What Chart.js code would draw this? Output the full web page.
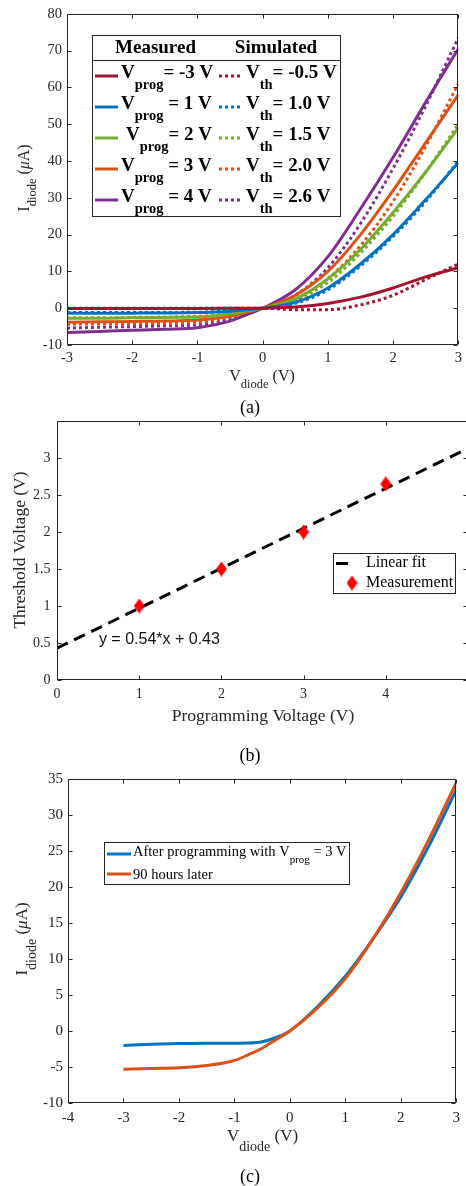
<!DOCTYPE html>
<html>
<head>
<meta charset="utf-8">
<script src="https://cdn.jsdelivr.net/npm/chart.js@4.4.1/dist/chart.umd.min.js"></script>
<style>
  html, body { margin: 0; padding: 0; background: #fff; overflow: hidden; width: 466px; height: 1186px; }
  canvas { position: absolute; left: 0; }
</style>
</head>
<body>
<canvas id="chartA" width="466" height="420" style="top:0px"></canvas>
<canvas id="chartB" width="480" height="360" style="top:405px"></canvas>
<canvas id="chartC" width="466" height="421" style="top:765px"></canvas>
<script>
// ---- (a) measured vs simulated I-V curves
const vDiodeA = [-3, -2.5, -2, -1.5, -1, -0.5, -0.25, 0, 0.5, 1, 1.5, 2, 2.5, 3];
const measVprogM3 = [-0.1, -0.1, -0.1, -0.1, -0.1, -0.05, 0, 0, 0.3, 1.3, 3, 5.5, 8.5, 11];
const simVthM05   = [0, 0, 0, 0, 0, 0, 0, 0, -0.4, -0.4, 0.9, 3.5, 7.8, 12];
const measVprog1  = [-1.4, -1.4, -1.35, -1.3, -1.2, -0.8, -0.4, 0, 1.6, 5.5, 12, 20, 29.5, 39.5];
const simVth10    = [-1.2, -1.2, -1.2, -1.15, -1.1, -0.7, -0.35, 0, 1.3, 5, 11.5, 19.5, 29, 40];
const measVprog2  = [-2.7, -2.7, -2.6, -2.5, -2.4, -1.6, -0.8, 0, 2.5, 8, 16, 26, 37, 49];
const simVth15    = [-2.6, -2.6, -2.5, -2.4, -2.2, -1.5, -0.7, 0, 2.1, 7, 15, 25, 37, 50];
const measVprog3  = [-3.8, -3.7, -3.6, -3.5, -3.2, -2.2, -1.1, 0, 3.5, 10, 20, 32, 45, 58];
const simVth20    = [-4.3, -4.3, -4.2, -4.1, -3.8, -2.5, -1.2, 0, 2.6, 8, 17, 29, 44, 61];
const measVprog4  = [-6.6, -6.3, -6, -5.7, -5.3, -3.5, -1.8, 0, 5, 14, 27, 41, 56, 70.5];
const simVth26    = [-5.4, -5.2, -5, -4.8, -4.5, -3, -1.5, 0, 3.5, 11, 23, 38, 55, 73.5];
const progLabels = ['-3', '1', '2', '3', '4'];
const vthLabels = ['-0.5', '1.0', '1.5', '2.0', '2.6'];

// ---- (b) threshold voltage vs programming voltage
const progVoltage = [1, 2, 3, 4];
const thresholdVoltage = [1.0, 1.5, 2.0, 2.65];
const fitX = [0, 5];
const fitY = [0.43, 3.13];
const fitText = 'y = 0.54*x + 0.43';

// ---- (c) retention
const vDiodeC = [-3, -2.5, -2, -1.5, -1, -0.75, -0.5, -0.25, 0, 0.5, 1, 1.5, 2, 2.5, 3];
const afterProg = [-2.0, -1.85, -1.75, -1.7, -1.7, -1.68, -1.5, -0.9, 0, 3.4, 7.6, 12.8, 18.6, 25.6, 33.5];
const after90h  = [-5.3, -5.2, -5.1, -4.8, -4.1, -3.3, -2.4, -1.2, 0, 3.2, 7.3, 12.8, 19.2, 26.5, 34.5];

const SERIF = "'Liberation Serif', 'Times New Roman', serif";
const SANS = "'Liberation Sans', Arial, sans-serif";
const AXIS = '#262626';
const RED = '#A2142F', BLUE = '#0072BD', GREEN = '#77AC30', ORANGE = '#D95319', PURPLE = '#7E2F8E';

function zip(xs, ys) { return xs.map((x, i) => ({ x: x, y: ys[i] })); }
function font(size, bold, italic) { return (italic ? 'italic ' : '') + (bold ? 'bold ' : '') + size + 'px ' + SERIF; }

function drawRun(ctx, parts, x, y, align) {
  let w = 0;
  parts.forEach(p => { ctx.font = p[1]; w += ctx.measureText(p[0]).width; });
  let cx = align === 'center' ? x - w / 2 : x;
  ctx.textAlign = 'left';
  ctx.textBaseline = 'middle';
  parts.forEach(p => {
    ctx.font = p[1];
    ctx.fillText(p[0], cx, y + (p[2] || 0));
    cx += ctx.measureText(p[0]).width;
  });
}
function drawRunRotated(ctx, parts, x, y) {
  ctx.save();
  ctx.translate(x, y);
  ctx.rotate(-Math.PI / 2);
  drawRun(ctx, parts, 0, 0, 'center');
  ctx.restore();
}

// box with inward ticks on all four sides
function drawFrame(chart) {
  const ctx = chart.ctx, a = chart.chartArea, sx = chart.scales.x, sy = chart.scales.y;
  const L = Math.round(a.left) + 0.5, R = Math.round(a.right) - 0.5;
  const T = Math.round(a.top) + 0.5, B = Math.round(a.bottom) - 0.5;
  ctx.save();
  ctx.strokeStyle = AXIS;
  ctx.lineWidth = 1;
  ctx.setLineDash([]);
  ctx.beginPath();
  ctx.rect(L, T, R - L, B - T);
  sx.ticks.forEach(t => {
    const p = Math.round(sx.getPixelForValue(t.value)) + 0.5;
    ctx.moveTo(p, B); ctx.lineTo(p, B - 4);
    ctx.moveTo(p, T); ctx.lineTo(p, T + 4);
  });
  sy.ticks.forEach(t => {
    const p = Math.round(sy.getPixelForValue(t.value)) + 0.5;
    ctx.moveTo(L, p); ctx.lineTo(L + 4, p);
    ctx.moveTo(R, p); ctx.lineTo(R - 4, p);
  });
  ctx.stroke();
  ctx.restore();
}

function axis(min, max, step, size, pad, fit, isX, cb) {
  const ticks = { stepSize: step, color: AXIS, font: { family: SERIF, size: size }, padding: pad, maxRotation: 0, autoSkip: false };
  if (cb) ticks.callback = cb;
  return {
    type: 'linear', min: min, max: max, ticks: ticks,
    grid: { display: false, drawTicks: false }, border: { display: false },
    afterFit: s => { if (isX) s.height = fit; else s.width = fit; }
  };
}

function baseOptions(pad, scales) {
  return {
    responsive: false, maintainAspectRatio: false, animation: false, devicePixelRatio: 1,
    layout: { padding: pad },
    plugins: { legend: { display: false }, tooltip: { enabled: false } },
    elements: { point: { radius: 0 }, line: { tension: 0.4, cubicInterpolationMode: 'monotone' } },
    scales: scales
  };
}

// ================= chart (a)
const seriesA = [
  { data: measVprogM3, color: RED, dotted: false },
  { data: measVprog1, color: BLUE, dotted: false },
  { data: measVprog2, color: GREEN, dotted: false },
  { data: measVprog3, color: ORANGE, dotted: false },
  { data: measVprog4, color: PURPLE, dotted: false },
  { data: simVthM05, color: RED, dotted: true },
  { data: simVth10, color: BLUE, dotted: true },
  { data: simVth15, color: GREEN, dotted: true },
  { data: simVth20, color: ORANGE, dotted: true },
  { data: simVth26, color: PURPLE, dotted: true }
];
const colorsA = [RED, BLUE, GREEN, ORANGE, PURPLE];

new Chart(document.getElementById('chartA'), {
  type: 'line',
  data: {
    datasets: seriesA.map(s => ({
      data: zip(vDiodeA, s.data), borderColor: s.color, borderWidth: 3,
      borderDash: s.dotted ? [3, 3] : [], borderCapStyle: 'butt', fill: false
    }))
  },
  options: baseOptions({ top: 13, right: 7, left: 0, bottom: 0 }, {
    x: axis(-3, 3, 1, 14.5, 4, 75, true),
    y: axis(-10, 80, 10, 14.5, 5, 67, false)
  }),
  plugins: [{
    id: 'decorA',
    afterDraw(chart) {
      const ctx = chart.ctx;
      drawFrame(chart);
      ctx.save();
      ctx.fillStyle = AXIS;
      drawRun(ctx, [['V', font(16)], ['diode', font(12.5), 8], [' (V)', font(16)]], 262, 377, 'center');
      drawRunRotated(ctx, [['I', font(16)], ['diode', font(12.5), 8], [' (', font(16)], ['\u03BC', font(16, false, true)], ['A)', font(16)]], 25, 178);
      ctx.fillStyle = '#000';
      drawRun(ctx, [['(a)', font(18)]], 250, 408, 'center');
      // legend
      ctx.fillStyle = '#fff';
      ctx.fillRect(92, 35, 248, 181);
      ctx.strokeStyle = AXIS;
      ctx.lineWidth = 1;
      ctx.strokeRect(92.5, 35.5, 248, 181);
      ctx.beginPath(); ctx.moveTo(92, 60.5); ctx.lineTo(340, 60.5); ctx.stroke();
      ctx.fillStyle = '#000';
      drawRun(ctx, [['Measured', font(19, true)]], 155.5, 48, 'center');
      drawRun(ctx, [['Simulated', font(19, true)]], 276, 48, 'center');
      const measX = [121, 121, 126, 121, 121];
      for (let i = 0; i < 5; i++) {
        const y = 73 + 31 * i;
        ctx.lineWidth = 3;
        ctx.lineCap = 'butt';
        ctx.strokeStyle = colorsA[i];
        ctx.setLineDash([]);
        ctx.beginPath(); ctx.moveTo(95, y + 3); ctx.lineTo(118, y + 3); ctx.stroke();
        ctx.setLineDash([3, 3]);
        ctx.beginPath(); ctx.moveTo(219, y + 3); ctx.lineTo(242, y + 3); ctx.stroke();
        ctx.setLineDash([]);
        const eq = (i === 0 || i === 2) ? '= ' : ' = ';
        drawRun(ctx, [['V', font(19, true)], ['prog', font(14.5, true), 12], [eq + progLabels[i] + ' V', font(19, true)]], measX[i], y, 'left');
        drawRun(ctx, [['V', font(19, true)], ['th', font(14.5, true), 12], ['= ' + vthLabels[i] + ' V', font(19, true)]], 246, y, 'left');
      }
      ctx.restore();
    }
  }]
});

// ================= chart (b)
const diamond = document.createElement('canvas');
diamond.width = 11; diamond.height = 15;
(function () {
  const c = diamond.getContext('2d');
  c.fillStyle = '#FF0000';
  c.beginPath();
  c.moveTo(5.5, 0); c.lineTo(11, 7.5); c.lineTo(5.5, 15); c.lineTo(0, 7.5);
  c.closePath(); c.fill();
})();

const OFF_B = 405;
new Chart(document.getElementById('chartB'), {
  type: 'line',
  data: {
    datasets: [
      { data: zip(progVoltage, thresholdVoltage), showLine: false, pointStyle: diamond, pointRadius: 7, order: 0 },
      { data: zip(fitX, fitY), borderColor: '#000', borderWidth: 3, borderDash: [12, 7], tension: 0, pointRadius: 0, order: 1 }
    ]
  },
  options: baseOptions({ top: 16, right: 12, left: 0, bottom: 0 }, {
    x: axis(0, 5, 1, 14, 6, 85, true, v => (v === 5 ? '' : v)),
    y: axis(0, 3.5, 0.5, 14, 6.5, 57, false, v => (v === 3.5 ? '' : v))
  }),
  plugins: [{
    id: 'decorB',
    afterDraw(chart) {
      const ctx = chart.ctx;
      drawFrame(chart);
      ctx.save();
      ctx.fillStyle = AXIS;
      drawRunRotated(ctx, [['Threshold Voltage (V)', font(17.5)]], 20, 550 - OFF_B);
      drawRun(ctx, [['Programming Voltage (V)', font(17.5)]], 263, 716 - OFF_B, 'center');
      ctx.fillStyle = '#000';
      drawRun(ctx, [['(b)', font(18)]], 250, 756 - OFF_B, 'center');
      // fit equation, anchored in data space
      const ex = chart.scales.x.getPixelForValue(0.51);
      const ey = chart.scales.y.getPixelForValue(0.55);
      ctx.fillStyle = '#111';
      drawRun(ctx, [[fitText, '16px ' + SANS]], ex, ey, 'left');
      // legend
      const ly = 553 - OFF_B;
      ctx.fillStyle = '#fff';
      ctx.fillRect(333, ly, 122, 40);
      ctx.strokeStyle = AXIS;
      ctx.lineWidth = 1;
      ctx.strokeRect(333.5, ly + 0.5, 122, 40);
      ctx.strokeStyle = '#000';
      ctx.lineWidth = 3;
      ctx.beginPath(); ctx.moveTo(336, ly + 10.5); ctx.lineTo(348, ly + 10.5); ctx.stroke();
      ctx.drawImage(diamond, 352 - 5.5, ly + 30 - 7.5);
      ctx.fillStyle = '#000';
      drawRun(ctx, [['Linear fit', font(16)]], 366, ly + 10, 'left');
      drawRun(ctx, [['Measurement', font(16)]], 366, ly + 30, 'left');
      ctx.restore();
    }
  }]
});

// ================= chart (c)
const OFF_C = 765;
new Chart(document.getElementById('chartC'), {
  type: 'line',
  data: {
    datasets: [
      { data: zip(vDiodeC, after90h), borderColor: ORANGE, borderWidth: 3, fill: false },
      { data: zip(vDiodeC, afterProg), borderColor: BLUE, borderWidth: 3, fill: false }
    ]
  },
  options: baseOptions({ top: 12, right: 9, left: 0, bottom: 0 }, {
    x: axis(-4, 3, 1, 15, 6, 83, true),
    y: axis(-10, 35, 5, 15, 5, 68, false)
  }),
  plugins: [{
    id: 'decorC',
    afterDraw(chart) {
      const ctx = chart.ctx;
      drawFrame(chart);
      ctx.save();
      ctx.fillStyle = AXIS;
      drawRun(ctx, [['V', font(17)], ['diode', font(14), 10], [' (V)', font(17)]], 262.5, 1137 - OFF_C, 'center');
      drawRunRotated(ctx, [['I', font(17)], ['diode', font(14), 9], [' (', font(17)], ['\u03BC', font(17, false, true)], ['A)', font(17)]], 23, 939 - OFF_C);
      ctx.fillStyle = '#000';
      drawRun(ctx, [['(c)', font(18)]], 250, 1177 - OFF_C, 'center');
      // legend
      const ly = 842 - OFF_C;
      ctx.fillStyle = '#fff';
      ctx.fillRect(104, ly, 245, 42);
      ctx.strokeStyle = AXIS;
      ctx.lineWidth = 1;
      ctx.strokeRect(104.5, ly + 0.5, 245, 42);
      ctx.lineWidth = 3;
      ctx.strokeStyle = BLUE;
      ctx.beginPath(); ctx.moveTo(107, ly + 12); ctx.lineTo(131, ly + 12); ctx.stroke();
      ctx.strokeStyle = ORANGE;
      ctx.beginPath(); ctx.moveTo(107, ly + 32); ctx.lineTo(131, ly + 32); ctx.stroke();
      ctx.fillStyle = '#000';
      drawRun(ctx, [['After programming with V', font(14.5)], ['prog', font(11), 8], [' = 3 V', font(14.5)]], 133, ly + 10, 'left');
      drawRun(ctx, [['90 hours later', font(14.5)]], 133, ly + 33, 'left');
      ctx.restore();
    }
  }]
});
</script>
</body>
</html>
